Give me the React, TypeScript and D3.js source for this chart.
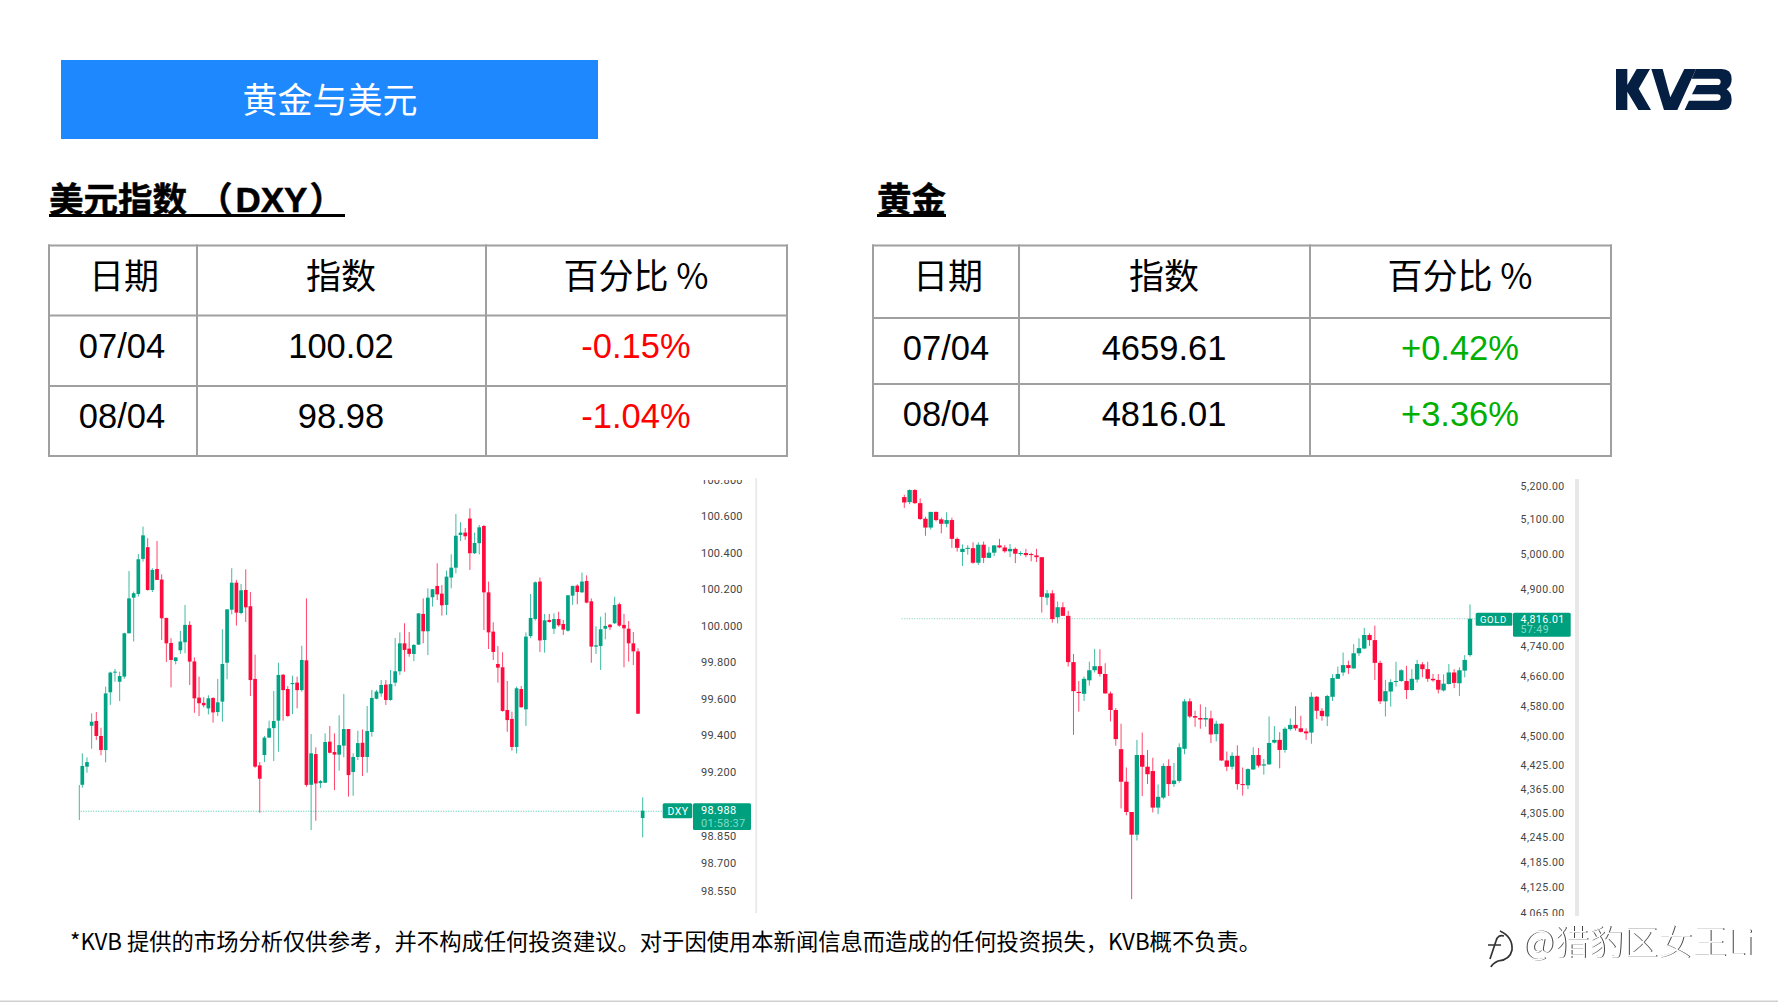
import React from "react";
import * as d3 from "d3";

// ---- table content ----
const tableHeaders = ["日期", "指数", "百分比 %"];
const dxyDates = ["07/04", "08/04"];
const dxyIndex = ["100.02", "98.98"];
const dxyPct = ["-0.15%", "-1.04%"];
const goldDates = ["07/04", "08/04"];
const goldIndex = ["4659.61", "4816.01"];
const goldPct = ["+0.42%", "+3.36%"];

// ---- axis ticks ----
const dxyTicks = [100.8, 100.6, 100.4, 100.2, 100.0, 99.8, 99.6, 99.4, 99.2, 98.85, 98.7, 98.55];
const goldTicks = [5200, 5100, 5000, 4900, 4740, 4660, 4580, 4500, 4425, 4365, 4305, 4245, 4185, 4125, 4065];

// ---- candles: open, high, low, close ----
const dxyCandles = [
  [99.132,99.132,98.940,99.132],[99.133,99.305,99.117,99.236],[99.232,99.283,99.199,99.257],[99.456,99.524,99.330,99.478],
  [99.482,99.531,99.378,99.400],[99.400,99.445,99.294,99.323],[99.323,99.670,99.256,99.633],[99.639,99.752,99.570,99.747],
  [99.747,99.767,99.697,99.752],[99.697,99.752,99.591,99.728],[99.725,99.965,99.714,99.962],[99.962,100.303,99.962,100.153],
  [100.157,100.190,99.917,100.181],[100.177,100.396,100.163,100.367],[100.369,100.546,100.354,100.498],[100.433,100.482,100.195,100.199],
  [100.199,100.318,100.188,100.309],[100.314,100.467,100.254,100.254],[100.256,100.285,99.925,100.044],[100.046,100.047,99.805,99.907],
  [99.909,99.935,99.666,99.816],[99.810,99.830,99.792,99.830],[99.869,99.976,99.849,99.917],[99.913,100.117,99.853,100.008],
  [100.008,100.028,99.679,99.807],[99.808,99.830,99.527,99.606],[99.610,99.725,99.509,99.579],[99.581,99.612,99.557,99.568],
  [99.551,99.623,99.518,99.606],[99.608,99.612,99.473,99.529],[99.531,99.712,99.509,99.584],[99.588,99.984,99.478,99.794],
  [99.801,100.093,99.710,100.093],[100.091,100.318,100.066,100.239],[100.239,100.254,100.004,100.075],[100.073,100.232,100.066,100.197],
  [100.199,100.312,100.024,100.104],[100.110,100.188,99.619,99.706],[99.712,99.845,99.226,99.232],[99.239,99.257,98.980,99.166],
  [99.296,99.400,99.257,99.391],[99.391,99.484,99.391,99.442],[99.443,99.646,99.263,99.482],[99.484,99.801,99.314,99.734],
  [99.735,99.739,99.484,99.651],[99.657,99.673,99.505,99.509],[99.684,99.730,99.520,99.690],[99.692,99.725,99.551,99.651],
  [99.651,99.894,99.642,99.816],[99.814,100.153,99.122,99.132],[99.133,99.411,98.885,99.305],[99.301,99.338,98.936,99.140],
  [99.142,99.159,99.115,99.153],[99.144,99.414,99.144,99.367],[99.369,99.455,99.305,99.308],[99.312,99.414,99.104,99.298],
  [99.298,99.513,99.210,99.350],[99.347,99.630,99.283,99.438],[99.438,99.438,99.068,99.186],[99.203,99.305,99.073,99.285],
  [99.285,99.429,99.268,99.361],[99.363,99.436,99.181,99.285],[99.285,99.564,99.199,99.427],[99.422,99.652,99.396,99.608],
  [99.604,99.652,99.601,99.643],[99.633,99.706,99.615,99.679],[99.681,99.706,99.570,99.597],[99.597,99.761,99.593,99.684],
  [99.692,99.936,99.673,99.754],[99.754,99.967,99.734,99.907],[99.907,100.017,99.752,99.871],[99.878,99.969,99.834,99.849],
  [99.849,99.903,99.809,99.898],[99.900,100.071,99.898,100.071],[100.068,100.153,99.907,99.973],[99.973,100.208,99.843,100.157],
  [100.159,100.203,100.108,100.203],[100.221,100.345,100.144,100.175],[100.179,100.226,100.059,100.115],[100.117,100.305,100.062,100.272],
  [100.267,100.394,100.208,100.321],[100.321,100.615,100.290,100.496],[100.500,100.570,100.467,100.513],[100.513,100.538,100.473,100.493],
  [100.590,100.646,100.309,100.400],[100.400,100.513,100.396,100.456],[100.455,100.555,100.394,100.542],[100.549,100.555,99.980,100.186],
  [100.186,100.245,99.876,99.967],[99.971,100.022,99.816,99.860],[99.794,99.892,99.692,99.774],[99.776,99.858,99.533,99.537],
  [99.542,99.701,99.423,99.487],[99.493,99.533,99.320,99.340],[99.340,99.670,99.305,99.661],[99.657,99.673,99.555,99.557],
  [99.546,99.967,99.455,99.944],[99.947,100.177,99.935,100.046],[100.040,100.246,100.031,100.241],[100.245,100.267,99.860,99.923],
  [99.925,100.068,99.856,100.033],[100.035,100.068,100.020,100.024],[99.987,100.071,99.958,100.040],[100.040,100.080,99.998,100.006],
  [100.013,100.035,99.953,99.982],[99.976,100.170,99.971,100.170],[100.168,100.223,100.117,100.221],[100.223,100.230,100.121,100.188],
  [100.186,100.294,100.184,100.245],[100.248,100.279,100.126,100.130],[100.137,100.153,99.801,99.889],[99.889,100.000,99.849,99.896],
  [99.892,100.053,99.761,99.984],[99.987,100.075,99.929,100.002],[100.009,100.013,99.980,99.995],[100.017,100.162,100.013,100.117],
  [100.121,100.130,99.998,100.004],[100.008,100.068,99.776,99.989],[99.987,100.029,99.807,99.907],[99.907,99.969,99.788,99.863],
  [99.863,99.880,99.520,99.522],[98.951,99.064,98.845,98.991],
];

const goldCandles = [
  [5166,5173,5134,5150],[5151,5189,5145,5187],[5187,5190,5145,5148],[5148,5162,5098,5101],[5102,5108,5052,5076],[5076,5122,5070,5122],
  [5122,5123,5094,5098],[5100,5105,5059,5087],[5087,5121,5077,5098],[5098,5105,5017,5043],[5043,5047,5006,5017],[5005,5027,4965,5014],
  [5014,5025,4997,5017],[5016,5033,4971,4974],[4974,5033,4968,5026],[5026,5035,4973,4988],[4988,5020,4987,5003],[5003,5025,4993,5024],
  [5024,5043,5016,5018],[5018,5025,5003,5007],[5007,5028,4990,5014],[5014,5018,4973,5000],[4999,5007,4994,5002],[5002,5014,4990,4996],
  [4999,5003,4978,4996],[4995,5014,4976,4990],[4990,4990,4833,4877],[4875,4896,4854,4887],[4887,4896,4805,4815],[4820,4864,4803,4848],
  [4848,4862,4824,4824],[4824,4838,4685,4697],[4697,4719,4504,4619],[4617,4646,4565,4614],[4612,4658,4593,4652],[4648,4698,4634,4675],
  [4675,4733,4669,4686],[4686,4732,4658,4665],[4665,4694,4612,4613],[4613,4618,4539,4569],[4569,4574,4476,4493],[4467,4533,4317,4384],
  [4384,4420,4300,4308],[4308,4308,4097,4252],[4252,4491,4238,4452],[4452,4510,4348,4422],[4422,4465,4378,4403],[4411,4445,4307,4319],
  [4319,4377,4303,4346],[4344,4431,4340,4424],[4424,4441,4348,4378],[4378,4432,4371,4387],[4386,4482,4381,4472],[4468,4598,4454,4592],
  [4592,4600,4548,4552],[4553,4567,4525,4549],[4548,4584,4520,4544],[4544,4577,4525,4548],[4547,4567,4483,4505],[4506,4541,4487,4533],
  [4533,4534,4437,4438],[4438,4461,4411,4422],[4422,4459,4415,4450],[4450,4477,4364,4378],[4378,4420,4349,4376],[4375,4418,4365,4416],
  [4415,4472,4414,4452],[4452,4470,4420,4425],[4425,4442,4402,4428],[4428,4552,4427,4483],[4484,4527,4482,4491],[4491,4511,4418,4465],
  [4465,4524,4458,4520],[4519,4547,4515,4530],[4530,4579,4515,4521],[4521,4554,4510,4512],[4513,4521,4491,4508],[4510,4616,4481,4604],
  [4604,4606,4545,4567],[4567,4574,4541,4553],[4552,4609,4527,4606],[4604,4664,4593,4654],[4652,4685,4652,4665],[4669,4723,4660,4689],
  [4689,4701,4665,4681],[4680,4746,4679,4721],[4721,4762,4714,4735],[4734,4791,4732,4771],[4771,4776,4741,4757],[4757,4797,4649,4695],
  [4695,4701,4585,4592],[4592,4649,4552,4619],[4618,4651,4578,4643],[4644,4698,4631,4646],[4646,4678,4644,4675],[4646,4687,4598,4622],
  [4622,4678,4620,4652],[4650,4703,4642,4692],[4691,4697,4656,4678],[4678,4698,4644,4652],[4652,4665,4644,4648],[4649,4665,4613,4623],
  [4621,4664,4618,4639],[4638,4692,4637,4669],[4669,4678,4627,4641],[4640,4683,4606,4675],[4674,4716,4656,4703],[4716,4856,4712,4816.01],
];

const dxyLast = 98.988;
const goldLast = 4816.01;
const UP = "#00a383";
const DOWN = "#ff0a3c";
const TAG = "#00a07f";
const CJK = "'Noto Sans CJK SC', sans-serif";
const LAT = "'Liberation Sans', Arial, sans-serif";
const AXISF = "Roboto, sans-serif";
const GRID = "#a0a0a0";

const dxyY = d3.scaleLinear().domain([98.55, 100.6]).range([891.3, 516.7]);
const dxyX = d3.scaleLinear().domain([1, 120]).range([82.3, 638]);
const goldY = d3.scaleLog().domain([4065, 5200]).range([912.7, 485.7]);
const goldX = d3.scaleLinear().domain([0, 107]).range([904.3, 1470]);

function Candles({ data, x, y, w, slot }: any) {
  return (
    <g>
      {data.map((d: number[], i: number) => {
        const [o, h, l, c] = d;
        const col = c >= o ? UP : DOWN;
        const cx = x(slot ? slot(i) : i);
        const top = y(Math.max(o, c));
        const bot = y(Math.min(o, c));
        return (
          <g key={i}>
            <rect x={cx - 0.5} y={y(h)} width={1} height={y(l) - y(h)} fill={col} opacity={0.75} />
            {o !== c && <rect x={cx - w / 2} y={top} width={w} height={Math.max(bot - top, 1)} fill={col} />}
          </g>
        );
      })}
    </g>
  );
}

function Table({ x0, x1, x2, x3, y0, y1, y2, y3, centers, dates, index, pct, colour, rowText }: any) {
  const hs = [y0, y1, y2, y3];
  const vs = [x0, x1, x2, x3];
  return (
    <g>
      {hs.map((yy: number) => <line key={"h" + yy} x1={x0 - 1} x2={x3 + 1} y1={yy} y2={yy} stroke={GRID} strokeWidth={2} />)}
      {vs.map((xx: number) => <line key={"v" + xx} x1={xx} x2={xx} y1={y0 - 1} y2={y3 + 1} stroke={GRID} strokeWidth={2} />)}
      {tableHeaders.map((t, i) => (
        <text key={t} x={centers[i]} y={rowText[0]} textAnchor="middle" fontFamily={CJK} fontSize={35} fill="#000">{t}</text>
      ))}
      {dates.map((t: string, r: number) => (
        <g key={r} fontFamily={LAT} fontSize={34.5} textAnchor="middle">
          <text x={centers[0] - 2} y={rowText[r + 1]} fill="#000">{t}</text>
          <text x={centers[1]} y={rowText[r + 1]} fill="#000">{index[r]}</text>
          <text x={centers[2]} y={rowText[r + 1]} fill={colour}>{pct[r]}</text>
        </g>
      ))}
    </g>
  );
}

export default function App() {
  return (
    <svg width={1778} height={1002} viewBox="0 0 1778 1002" style={{ position: "absolute", left: 0, top: 0, display: "block", background: "#fff" }}>
      <defs>
        <clipPath id="axisClipA"><rect x={690} y={480} width={70} height={433} /></clipPath>
        <clipPath id="axisClipB"><rect x={1510} y={479} width={70} height={437} /></clipPath>
      </defs>

      {/* banner */}
      <rect x={61} y={60} width={537} height={79} fill="#1e88ff" />
      <text x={330} y={113} textAnchor="middle" fontFamily={CJK} fontWeight={400} fontSize={35} fill="#fff">黄金与美元</text>

      {/* logo */}
      <g transform="translate(1590,50) scale(0.3333)" fill="#051f42">
        <path d="M78,57 H112 V105 L140,57 H180 L146,116 L183,180 H145 L112,125 V180 H78 Z" />
        <path d="M184,57 H218 L241,142 L283,57 H318 L262,180 H222 Z" />
        <path d="M318,57 H395 Q425,57 425,88 Q425,108 410,118 Q425,128 425,150 Q425,180 395,180 H284 L297,152 H382 Q392,152 392,141 Q392,133 382,133 H306 L320,105 H382 Q392,105 392,95 Q392,86 382,86 H305 Z" />
      </g>

      {/* section titles */}
      <text x={49} y={212} fontFamily={CJK} fontWeight={700} fontSize={34.5} fill="#000" stroke="#000" strokeWidth={0.5}>
        美元指数
        <tspan dx={11}>（</tspan>
        <tspan dx={3} fontFamily={LAT} fontSize={35}>DXY</tspan>
        <tspan dx={2}>）</tspan>
      </text>
      <rect x={49} y={214} width={296} height={3} fill="#000" />
      <text x={877} y={212} fontFamily={CJK} fontWeight={700} fontSize={34.5} fill="#000" stroke="#000" strokeWidth={0.5}>黄金</text>
      <rect x={877} y={214} width={69} height={3} fill="#000" />

      <Table x0={49} x1={197} x2={486} x3={787} y0={245.5} y1={315.5} y2={386} y3={456}
        centers={[124, 341, 636]} dates={dxyDates} index={dxyIndex} pct={dxyPct} colour="#ff0000" rowText={[289, 358, 428]} />
      <Table x0={873} x1={1019} x2={1310} x3={1611} y0={245.5} y1={318} y2={384} y3={456}
        centers={[948, 1164, 1460]} dates={goldDates} index={goldIndex} pct={goldPct} colour="#00b000" rowText={[289, 360, 426]} />

      {/* DXY chart */}
      <line x1={80.7} x2={663} y1={dxyY(dxyLast)} y2={dxyY(dxyLast)} stroke="#4cc7ab" strokeWidth={1} strokeDasharray="1 1.5" />
      <Candles data={dxyCandles} x={dxyX} y={dxyY} w={3.7} slot={(i: number) => (i === 0 ? 0.36 : i)} />
      <rect x={755.4} y={478} width={1.4} height={435} fill="#e4e4e4" />
      <g clipPath="url(#axisClipA)" fontFamily={AXISF} fontSize={11} letterSpacing={0.25} fill="#444">
        {dxyTicks.map((t) => <text key={t} x={701} y={dxyY(t) + 3.5}>{t.toFixed(3)}</text>)}
      </g>
      <rect x={662.7} y={803.3} width={29.6} height={15} rx={1.5} fill={TAG} />
      <rect x={693} y={803.3} width={58} height={26.7} rx={1.5} fill={TAG} />
      <text x={667.5} y={814.5} fontFamily={AXISF} fontSize={10.5} letterSpacing={0.4} fill="#fff">DXY</text>
      <text x={701} y={814} fontFamily={AXISF} fontSize={11} letterSpacing={0.25} fill="#fff">{dxyLast.toFixed(3)}</text>
      <text x={701} y={827} fontFamily={AXISF} fontSize={11} letterSpacing={0.25} fill="#7fdcc6">01:58:37</text>

      {/* Gold chart */}
      <line x1={901.7} x2={1476} y1={goldY(goldLast)} y2={goldY(goldLast)} stroke="#7fcdb8" strokeWidth={1} strokeDasharray="1 1.5" />
      <Candles data={goldCandles} x={goldX} y={goldY} w={4.4} />
      <rect x={1575} y={479} width={4} height={437} fill="#e8e8e8" />
      <g clipPath="url(#axisClipB)" fontFamily={AXISF} fontSize={10.5} letterSpacing={0.5} fill="#444">
        {goldTicks.map((t) => <text key={t} x={1520.5} y={goldY(t) + 3.8}>{d3.format(",.2f")(t)}</text>)}
      </g>
      <rect x={1475.7} y={612.7} width={36.6} height={13} rx={1.5} fill={TAG} />
      <rect x={1513} y={612.7} width={57.7} height={24} rx={1.5} fill={TAG} />
      <text x={1480} y={623} fontFamily={AXISF} fontSize={9.5} letterSpacing={0.6} fill="#fff">GOLD</text>
      <text x={1520.5} y={623} fontFamily={AXISF} fontSize={10.5} letterSpacing={0.5} fill="#fff">{d3.format(",.2f")(goldLast)}</text>
      <text x={1520.5} y={633} fontFamily={AXISF} fontSize={10.5} letterSpacing={0.5} fill="#7fdcc6">57:49</text>

      {/* footer */}
      <text x={70} y={950} fontFamily={CJK} fontSize={22.3} fill="#000">*KVB 提供的市场分析仅供参考，并不构成任何投资建议。对于因使用本新闻信息而造成的任何投资损失，KVB概不负责。</text>

      {/* watermark */}
      <g fill="none" stroke="#333" strokeWidth={1.7}>
        <path d="M1500,931 Q1513,937 1512,950 Q1510,960 1498,961 Q1492,964 1491,967" />
        <path d="M1504,936 Q1498,934 1496,941 L1490,959 M1488,945 H1501" />
      </g>
      <text x={1523} y={955} fontFamily={CJK} fontWeight={300} fontSize={34.5} fill="#fff" style={{ filter: "drop-shadow(1px 0.5px 0 #444)" }}>@猎豹区女王Li</text>

      <rect x={0} y={1000.5} width={1778} height={1.5} fill="#cfcfcf" />
    </svg>
  );
}
